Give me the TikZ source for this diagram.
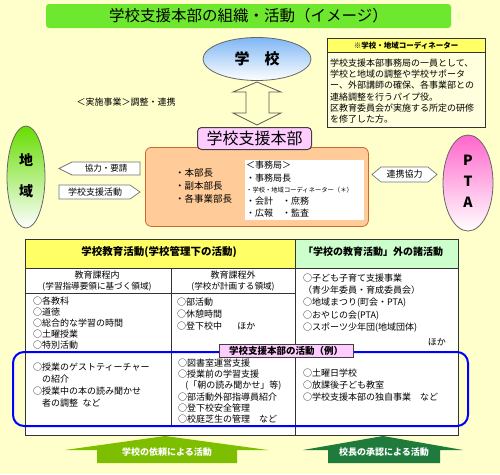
\documentclass[tikz,border=0pt]{standalone}
\usepackage{fontspec}
\setmainfont{Noto Sans CJK JP}
\usetikzlibrary{shapes.geometric}
\definecolor{bgyellow}{HTML}{FFFFCC}
\definecolor{titlegreen}{HTML}{6EE82E}
\definecolor{coordhead}{HTML}{FFFF66}
\definecolor{coordbody}{HTML}{FFFFDD}
\definecolor{orangefill}{HTML}{FFCC99}
\definecolor{orangeborder}{HTML}{CC6633}
\definecolor{pinkfill}{HTML}{FFCCFF}
\definecolor{schoolblue}{HTML}{7EB6F5}
\definecolor{chiikigreen}{HTML}{66DD00}
\definecolor{ptapink}{HTML}{FF66CC}
\definecolor{headyellow}{HTML}{FFFF66}
\definecolor{headgreen}{HTML}{CCFFCC}
\definecolor{arrowlime}{HTML}{7DBE00}
\definecolor{arrowdark}{HTML}{1E7B3C}
\newcommand\myfs[2]{\fontsize{#1}{#2}\selectfont}
\begin{document}
\begin{tikzpicture}[x=1pt,y=-1pt,
  lst/.style={anchor=north west, inner sep=0, align=left},
  arrowbox/.style={fill=white, draw=black!55, line width=0.7pt},
  tbl/.style={draw=black!80, line width=0.8pt},
  lbl/.style={inner sep=0, font=\myfs{9}{9}},
  ell/.style={ellipse, draw=black!60, line width=0.8pt, inner sep=0}]
\useasboundingbox (0,0) rectangle (500,474);
\fill[bgyellow] (0,0) rectangle (500,474);

% title
\node[fill=titlegreen, rounded corners=3pt, minimum width=405, minimum height=24, inner sep=0] (title) at (248.5,16) {\myfs{15.5}{16}学校支援本部の組織・活動（イメージ）};

% school
\node[ell, top color=schoolblue, middle color=schoolblue!55!white, bottom color=white, minimum width=108, minimum height=43] (school) at (257,59) {\myfs{15}{15}\bfseries 学　校};
\draw[draw=black!65, line width=0.8pt, fill=bgyellow] (257,82) -- (281,92) -- (269,92) -- (269,113) -- (281,113) -- (257,125) -- (233,113) -- (246,113) -- (246,92) -- (233,92) -- cycle;
\node[lbl] (jisshi) at (126,102) {＜実施事業＞調整・連携};

% coordinator box
\node[draw=black!80, fill=coordbody, minimum width=158, minimum height=89, inner sep=0, anchor=north west] (coordbox) at (327,38) {};
\node[draw=black!80, fill=coordhead, minimum width=158, minimum height=14, inner sep=0, anchor=north west, font=\myfs{7.5}{8}\bfseries] (coordhead) at (327,38) {※学校・地域コーディネーター};
\node[lst, font=\myfs{9}{11.3}] (coordtext) at (330,58.5) {学校支援本部事務局の一員として、\\学校と地域の調整や学校サポータ\\ー、外部講師の確保、各事業部との\\連絡調整を行うパイプ役。\\区教育委員会が実施する所定の研修\\を修了した方。};

% headquarters
\node[draw=orangeborder, fill=orangefill, rounded corners=6pt, minimum width=223, minimum height=79, anchor=north west, inner sep=0, line width=0.8pt] (hqbox) at (145,147) {};
\node[draw=black!75, fill=pinkfill, rounded corners=4pt, minimum width=114, minimum height=22, inner sep=0, line width=1pt, font=\myfs{16}{16}] (hq) at (254.5,138.5) {学校支援本部};
\node[lst, font=\myfs{9.5}{13}] (officers) at (175,168.5) {・本部長\\・副本部長\\・各事業部長};
\node[fill=white, minimum width=119, minimum height=60, anchor=north west, inner sep=0] (office) at (245,160) {};
\node[lbl, anchor=west] (o1) at (246,165) {＜事務局＞};
\node[lbl, anchor=west] (o2) at (246,178) {・事務局長};
\node[lbl, anchor=west, font=\myfs{6.3}{7}] (o3) at (246,190.5) {・学校・地域コーディネーター（＊）};
\node[lbl, anchor=west] (o4) at (246,201) {・会計　・庶務};
\node[lbl, anchor=west] (o5) at (246,213) {・広報　・監査};

% chiiki
\node[ell, top color=chiikigreen, middle color=chiikigreen!45!white, bottom color=white, minimum width=38, minimum height=102] (chiiki) at (26,177) {};
\node[inner sep=0, font=\myfs{14}{14}\bfseries] (chiiki1) at (26,160) {地};
\node[inner sep=0, font=\myfs{14}{14}\bfseries] (chiiki2) at (26,191) {域};

% PTA
\node[ell, top color=ptapink, middle color=ptapink!50!white, bottom color=white, minimum width=50, minimum height=96] (pta) at (468,183) {};
\node[inner sep=0, font=\myfs{14}{14}\bfseries] (ptaP) at (468,160) {P};
\node[inner sep=0, font=\myfs{14}{14}\bfseries] (ptaT) at (468,181) {T};
\node[inner sep=0, font=\myfs{14}{14}\bfseries] (ptaA) at (468,202) {A};

% side arrows
\draw[arrowbox] (59,168.5) -- (72,162) -- (140,162) -- (140,175) -- (72,175) -- cycle;
\node[lbl, font=\myfs{8.5}{9}] (kyoryoku) at (106,168.5) {協力・要請};
\draw[arrowbox] (59,185) -- (130,185) -- (140,192) -- (130,199) -- (59,199) -- cycle;
\node[lbl] (shien) at (95,192) {学校支援活動};
\draw[arrowbox] (372,174.5) -- (381,167) -- (428,167) -- (437,174.5) -- (428,182) -- (381,182) -- cycle;
\node[lbl] (renkei) at (404.5,174.5) {連携協力};

% table
\fill[white] (25,239) rectangle (458,435);
\fill[headyellow] (25,239) rectangle (295,268);
\fill[headgreen] (295,239) rectangle (458,268);
\draw[tbl] (25,239) rectangle (458,435);
\draw[tbl] (25,268) -- (458,268);
\draw[tbl] (25,293) -- (295,293);
\draw[tbl] (171,268) -- (171,425);
\draw[tbl] (295,239) -- (295,435);
\node[inner sep=0, font=\myfs{10.5}{11}\bfseries] (hleft) at (159,252) {学校教育活動(学校管理下の活動)};
\node[inner sep=0, font=\myfs{10}{11}\bfseries] (hright) at (373,252) {「学校の教育活動」外の諸活動};
\node[lbl] (s1a) at (97,275) {教育課程内};
\node[lbl, font=\myfs{8.6}{9}] (s1b) at (97,287) {(学習指導要領に基づく領域)};
\node[lbl] (s2a) at (233,275) {教育課程外};
\node[lbl, font=\myfs{8.6}{9}] (s2b) at (233,287) {(学校が計画する領域)};

\node[lst, font=\myfs{9}{11}] (colA) at (33,296.5) {○各教科\\○道徳\\○総合的な学習の時間\\○土曜授業\\○特別活動};
\node[lst, font=\myfs{9}{12.3}] (colB) at (177,297.5) {○部活動\\○休憩時間\\○登下校中\hspace{1.7em}ほか};
\node[lst, font=\myfs{9}{12.25}] (colC) at (303,273.5) {○子ども子育て支援事業\\（青少年委員・育成委員会）\\○地域まつり(町会・PTA)\\○おやじの会(PTA)\\○スポーツ少年団(地域団体)};
\node[lbl, anchor=east] (hoka) at (446,342) {ほか};

% blue frame
\draw[blue, line width=2pt, rounded corners=11pt] (13,352) rectangle (468,426);
\node[draw=black!75, fill=pinkfill, minimum width=134, minimum height=13, inner sep=0, line width=0.8pt, font=\myfs{9.5}{10}\bfseries] (exlabel) at (286,351) {学校支援本部の活動（例）};

\node[lst, font=\myfs{9}{12.2}] (exA) at (33,362.5) {○授業のゲストティーチャー\\\hspace{1em}の紹介\\○授業中の本の読み聞かせ\\\hspace{1em}者の調整\hspace{0.5em}など};
\node[lst, font=\myfs{9}{11.3}] (exB) at (178,358.5) {○図書室運営支援\\○授業前の学習支援\\\hspace{0.8em}(「朝の読み聞かせ」等)\\○部活動外部指導員紹介\\○登下校安全管理\\○校庭芝生の管理　など};
\node[lst, font=\myfs{9}{12}] (exC) at (303,368.5) {○土曜日学校\\○放課後子ども教室\\○学校支援本部の独自事業　など};

% bottom arrows
\fill[arrowlime] (165,436) -- (268,450) -- (237,450) -- (237,463) -- (97,463) -- (97,450) -- (65,450) -- cycle;
\node[inner sep=0, text=white, font=\myfs{9}{9}\bfseries] (irai) at (167,452) {学校の依頼による活動};
\fill[arrowdark] (383,436) -- (463,450) -- (440,450) -- (440,463) -- (328,463) -- (328,450) -- (303,450) -- cycle;
\node[inner sep=0, text=white, font=\myfs{9}{9}\bfseries] (shonin) at (384,452) {校長の承認による活動};
\end{tikzpicture}
\end{document}
